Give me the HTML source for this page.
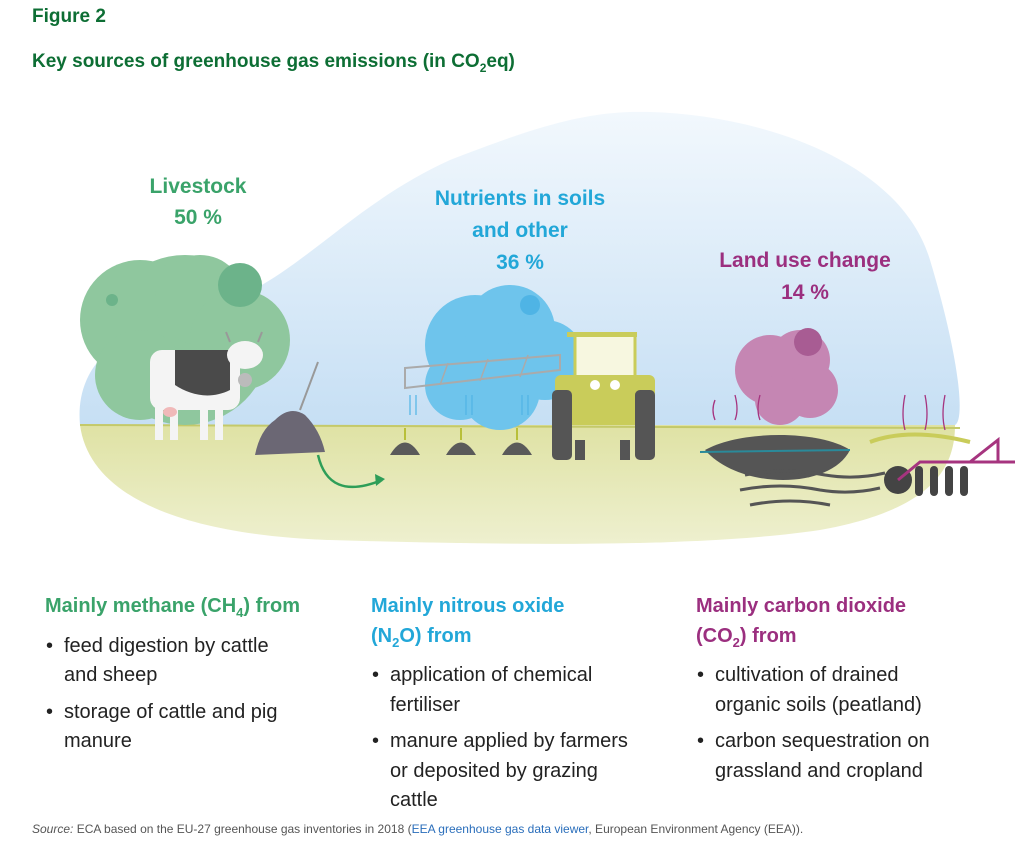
<!DOCTYPE html>
<html><head><meta charset="utf-8"><style>
body{margin:0;width:1024px;height:848px;background:#fff;font-family:"Liberation Sans",sans-serif;position:relative;overflow:hidden}
.t{position:absolute;white-space:nowrap}
h1{position:absolute;margin:0;font-size:19px;color:#0d6e34;font-weight:bold}
.col{position:absolute;top:592px;font-size:20px;line-height:29.5px;color:#222}
.col .h{font-weight:bold}
.col ul{margin:4px 0 0 0;padding:0;list-style:none}
.col li{position:relative;padding-left:19px;margin-bottom:7px}
.col li:before{content:"•";position:absolute;left:1px}
</style></head><body>
<h1 style="left:32px;top:6px">Figure 2</h1>
<h1 style="left:32px;top:51px">Key sources of greenhouse gas emissions (in CO<sub style="font-size:12px">2</sub>eq)</h1>
<svg width="1024" height="580" style="position:absolute;left:0;top:0">
<defs><linearGradient id="sky" x1="0" y1="0" x2="0" y2="1"><stop offset="0" stop-color="#f2f8fd"/><stop offset="1" stop-color="#c6dff4"/></linearGradient>
<linearGradient id="gr" x1="0" y1="0" x2="0" y2="1"><stop offset="0" stop-color="#dfe2a4"/><stop offset="1" stop-color="#eef0cf"/></linearGradient></defs>
<path d="M80 425 C75 370 110 330 200 310 C290 290 340 210 450 160 C540 125 590 110 650 112 C760 115 900 160 930 260 C960 360 965 420 955 425 Z" fill="url(#sky)"/>
<path d="M80 425 L955 425 C955 470 930 510 820 530 C700 548 500 545 330 540 C190 535 90 500 80 425 Z" fill="url(#gr)"/>
<line x1="80" y1="425" x2="960" y2="428" stroke="#c4c96a" stroke-width="2"/>
<!-- tree -->
<g fill="#8fc79e"><circle cx="185" cy="340" r="85"/><circle cx="140" cy="320" r="60"/><circle cx="200" cy="300" r="45"/><circle cx="140" cy="375" r="45"/><circle cx="240" cy="340" r="50"/></g>
<circle cx="240" cy="285" r="22" fill="#6cb38a"/><circle cx="112" cy="300" r="6" fill="#6cb38a"/>
<!-- cow -->
<rect x="150" y="350" width="90" height="60" rx="12" fill="#f4f4f4"/>
<path d="M175 350 h55 v40 c-20 10 -40 5 -55 -5z" fill="#4a4a4a"/>
<rect x="155" y="405" width="8" height="35" fill="#f4f4f4"/><rect x="170" y="405" width="8" height="35" fill="#f4f4f4"/><rect x="200" y="405" width="8" height="35" fill="#f4f4f4"/><rect x="215" y="405" width="8" height="35" fill="#f4f4f4"/>
<ellipse cx="245" cy="355" rx="18" ry="14" fill="#f4f4f4"/><circle cx="245" cy="380" r="7" fill="#bbb"/>
<path d="M230 342 l-4 -10 M258 342 l4 -10" stroke="#999" stroke-width="2"/>
<ellipse cx="170" cy="412" rx="7" ry="5" fill="#f0b9b9"/>
<!-- manure -->
<path d="M255 455 Q260 430 275 420 Q290 405 305 415 Q320 430 325 452 Z" fill="#6b6774"/>
<line x1="300" y1="410" x2="318" y2="362" stroke="#999" stroke-width="2"/>
<path d="M318 455 C325 485 345 495 382 480" stroke="#2e9e58" stroke-width="2.5" fill="none"/>
<path d="M375 474 l10 5 l-9 7z" fill="#2e9e58"/>
<!-- blue cloud -->
<g fill="#6ec4ec"><circle cx="475" cy="345" r="50"/><circle cx="510" cy="330" r="45"/><circle cx="545" cy="360" r="40"/><circle cx="500" cy="390" r="40"/><circle cx="460" cy="385" r="35"/></g>
<circle cx="530" cy="305" r="10" fill="#4fb4e5"/>
<path d="M405 368 L560 355 L560 370 L405 388 Z M405 368 V388" fill="none" stroke="#aaa" stroke-width="2"/>
<path d="M440 385 l8 -22 M480 381 l8 -22 M520 377 l8 -22" stroke="#aaa" stroke-width="1.5"/>
<g stroke="#4fb4e5" stroke-width="1.2"><path d="M410 395 v20 M416 395 v20 M466 395 v20 M472 395 v20 M522 395 v20 M528 395 v20"/></g>
<g fill="#5a5a5a"><path d="M390 455 q15 -25 30 0z"/><path d="M446 455 q15 -25 30 0z"/><path d="M502 455 q15 -25 30 0z"/></g>
<g stroke="#b8bf3a" stroke-width="2"><path d="M405 440 l0 -12 M461 440 l0 -12 M517 440 l0 -12"/></g>
<!-- tractor -->
<rect x="575" y="335" width="60" height="50" fill="#f7f7e0" stroke="#c9cc5a" stroke-width="3"/>
<rect x="567" y="332" width="70" height="5" fill="#c9cc5a"/>
<rect x="555" y="375" width="100" height="50" rx="6" fill="#c9cc5a"/>
<rect x="552" y="390" width="20" height="70" rx="5" fill="#555"/><rect x="635" y="390" width="20" height="70" rx="5" fill="#555"/>
<rect x="575" y="440" width="10" height="20" fill="#555"/><rect x="620" y="440" width="10" height="20" fill="#555"/>
<circle cx="595" cy="385" r="5" fill="#fff"/><circle cx="615" cy="385" r="5" fill="#fff"/>
<!-- purple cloud -->
<g fill="#c586b3"><circle cx="770" cy="370" r="35"/><circle cx="800" cy="360" r="30"/><circle cx="810" cy="390" r="28"/><circle cx="780" cy="400" r="25"/></g>
<circle cx="808" cy="342" r="14" fill="#a85c93"/>
<path d="M705 450 C740 490 830 490 850 450 C820 430 740 430 705 450Z" fill="#555"/>
<path d="M700 452 L850 450" stroke="#2a8a9a" stroke-width="2"/>
<g stroke="#555" stroke-width="3" fill="none"><path d="M745 475 q40 -8 80 0 q30 5 60 -2"/><path d="M740 490 q40 -8 80 0 q30 5 60 -2"/><path d="M750 505 q40 -8 80 0"/></g>
<path d="M870 442 q40 -15 100 0" stroke="#c9cc5a" stroke-width="4" fill="none"/>
<g fill="#444"><circle cx="898" cy="480" r="14"/><rect x="915" y="466" width="8" height="30" rx="4"/><rect x="930" y="466" width="8" height="30" rx="4"/><rect x="945" y="466" width="8" height="30" rx="4"/><rect x="960" y="466" width="8" height="30" rx="4"/></g>
<path d="M898 480 L920 462 L1015 462 M970 462 L998 440 L998 462" stroke="#a6347f" stroke-width="3" fill="none"/>
<g stroke="#a6347f" stroke-width="1.3" fill="none"><path d="M715 420 q-4 -10 0 -20"/><path d="M735 420 q4 -10 0 -25"/><path d="M760 420 q-4 -10 0 -25"/><path d="M905 430 q-4 -15 0 -35"/><path d="M925 430 q4 -15 0 -35"/><path d="M945 430 q-4 -15 0 -35"/></g>
</svg>
<div class="t" style="left:148px;top:171px;font-size:21px;font-weight:bold;color:#3aa36a;text-align:center;width:100px;line-height:31px">Livestock<br>50 %</div>
<div class="t" style="left:420px;top:183px;font-size:21px;font-weight:bold;color:#22a7d8;text-align:center;width:200px;line-height:32px">Nutrients in soils<br>and other<br>36 %</div>
<div class="t" style="left:700px;top:245px;font-size:21px;font-weight:bold;color:#9b2f7f;text-align:center;width:210px;line-height:32px">Land use change<br>14 %</div>
<div class="col" style="left:45px;width:300px"><div class="h" style="color:#3aa36a">Mainly methane (CH<sub style="font-size:13px">4</sub>) from</div><ul><li>feed digestion by cattle<br>and sheep</li><li>storage of cattle and pig<br>manure</li></ul></div>
<div class="col" style="left:371px;width:300px"><div class="h" style="color:#22a7d8">Mainly nitrous oxide<br>(N<sub style="font-size:13px">2</sub>O) from</div><ul><li>application of chemical<br>fertiliser</li><li>manure applied by farmers<br>or deposited by grazing<br>cattle</li></ul></div>
<div class="col" style="left:696px;width:320px"><div class="h" style="color:#9b2f7f">Mainly carbon dioxide<br>(CO<sub style="font-size:13px">2</sub>) from</div><ul><li>cultivation of drained<br>organic soils (peatland)</li><li>carbon sequestration on<br>grassland and cropland</li></ul></div>
<div class="t" style="left:32px;top:822px;font-size:12px;color:#555"><i>Source:</i> ECA based on the EU-27 greenhouse gas inventories in 2018 (<span style="color:#2a6ebb">EEA greenhouse gas data viewer</span>, European Environment Agency (EEA)).</div>
</body></html>
